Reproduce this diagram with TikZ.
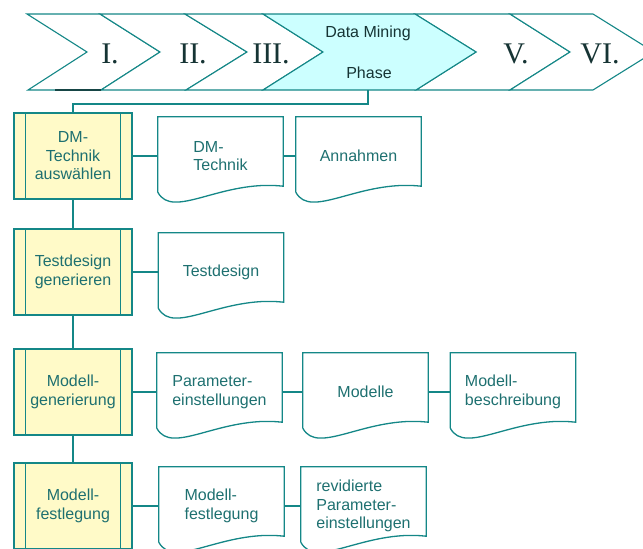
\documentclass[tikz,border=0pt]{standalone}
\usepackage{fontspec}
\setmainfont{Liberation Sans}
\newfontfamily\numfont{Liberation Serif}
\usetikzlibrary{calc}
\definecolor{linecol}{RGB}{20,135,135}
\definecolor{txtcol}{RGB}{30,112,112}
\definecolor{darktxt}{RGB}{22,52,52}
\definecolor{phasefill}{RGB}{204,255,255}
\definecolor{procfill}{RGB}{255,250,200}
\tikzset{
  conn/.style={draw=linecol, line width=1.3pt},
  chev/.style={draw=linecol, line width=1.1pt, fill=white, line join=miter},
  numeral/.style={font=\numfont\fontsize{30}{30}\selectfont, text=darktxt, inner sep=0pt, anchor=base},
  phasetxt/.style={font=\fontsize{16}{18}\selectfont, text=darktxt, inner sep=0pt, anchor=base},
  procbox/.style={draw=linecol, line width=1.3pt, fill=procfill, minimum width=118pt,
    minimum height=86pt, inner sep=0pt, align=center, text=txtcol,
    font=\fontsize{16}{18.5}\selectfont},
  docbox/.style={minimum width=125pt, minimum height=78pt, inner sep=0pt, align=left,
    text=txtcol, font=\fontsize{16}{18.5}\selectfont},
}
\begin{document}
\begin{tikzpicture}[x=1pt,y=-1pt]
\useasboundingbox (0,0) rectangle (643,549);
\clip (0,0) rectangle (643,549);

% phase chevrons
\draw[chev] (27,14) -- (100,14) -- (160,52) -- (101,90) -- (28,90) -- (87,52) -- cycle;
\draw[chev] (100,14) -- (185,14) -- (247,52) -- (186,90) -- (101,90) -- (160,52) -- cycle;
\draw[chev] (185,14) -- (263,14) -- (323,52) -- (263,90) -- (186,90) -- (247,52) -- cycle;
\draw[chev] (415,14) -- (510,14) -- (570,52) -- (510,90) -- (416,90) -- (476,52) -- cycle;
\draw[chev] (510,14) -- (593,14) -- (654,52) -- (593,90) -- (510,90) -- (570,52) -- cycle;
\draw[chev, fill=phasefill] (263,14) -- (415,14) -- (476,52) -- (416,90) -- (263,90) -- (323,52) -- cycle;
\draw[line width=2.2pt, draw=darktxt!80!linecol] (55,90) -- (101,90);

\node[numeral] (ph1) at (110,63) {I.};
\node[numeral] (ph2) at (193,63) {II.};
\node[numeral] (ph3) at (271,63) {III.};
\node[phasetxt] (ph4) at (368,37) {Data Mining};
\node[phasetxt] (ph4b) at (369,78) {Phase};
\node[numeral] (ph5) at (516,63) {V.};
\node[numeral] (ph6) at (600,63) {VI.};
\coordinate (phb) at (368,90);

% process steps
\node[procbox] (p1) at (73,156) {DM-\\Technik\\auswählen};
\node[procbox] (p2) at (73,272) {Testdesign\\generieren};
\node[procbox] (p3) at (73,392) {Modell-\\generierung};
\node[procbox] (p4) at (73,506) {Modell-\\festlegung};
\foreach \pn in {p1,p2,p3,p4} {
  \draw[conn] ([xshift=12pt]\pn.north west) -- ([xshift=12pt]\pn.south west)
              ([xshift=-12pt]\pn.north east) -- ([xshift=-12pt]\pn.south east);
}

% documents
\node[docbox] (d1) at (220.5,156) {DM-\\Technik};
\node[docbox] (d2) at (358.5,156) {Annahmen};
\node[docbox] (d3) at (221,272) {Testdesign};
\node[docbox] (d4) at (219.5,392) {Parameter-\\einstellungen};
\node[docbox] (d5) at (365.5,392) {Modelle};
\node[docbox] (d6) at (513,392) {Modell-\\beschreibung};
\node[docbox] (d7) at (221.5,506) {Modell-\\festlegung};
\node[docbox] (d8) at (363.5,506) {revidierte\\Parameter-\\einstellungen};
\foreach \dn in {d1,d2,d3,d4,d5,d6,d7,d8} {
  \draw[conn] ([yshift=3pt]\dn.south west) -- (\dn.north west) -- (\dn.north east)
    -- ([yshift=9pt]\dn.south east)
    .. controls ([xshift=-62pt,yshift=16pt]\dn.south east) and ([xshift=15pt,yshift=-25pt]\dn.south west)
    .. ([yshift=3pt]\dn.south west);
}

% connectors
\draw[conn] (phb) -- ++(0,14) -| (p1.north);
\draw[conn] (p1) -- (p2);
\draw[conn] (p2) -- (p3);
\draw[conn] (p3) -- (p4);
\draw[conn] (p1) -- (d1);
\draw[conn] (d1) -- (d2);
\draw[conn] (p2) -- (d3);
\draw[conn] (p3) -- (d4);
\draw[conn] (d4) -- (d5);
\draw[conn] (d5) -- (d6);
\draw[conn] (p4) -- (d7);
\draw[conn] (d7) -- (d8);
\end{tikzpicture}
\end{document}
